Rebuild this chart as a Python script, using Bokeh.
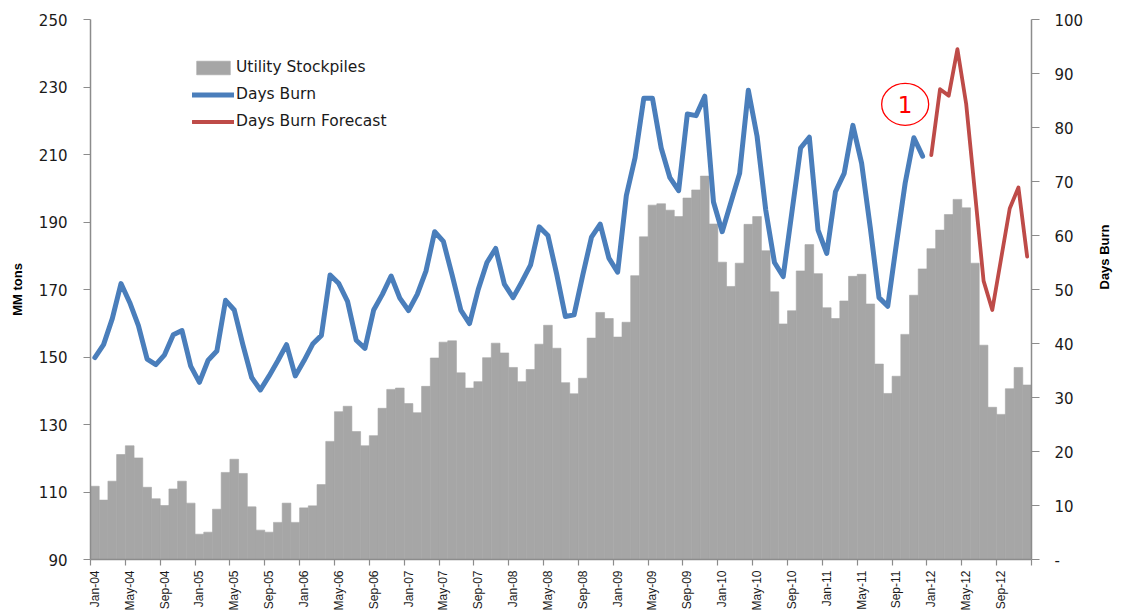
import math
from bokeh.plotting import figure
from bokeh.models import (Range1d, LinearAxis, FixedTicker, Legend, LegendItem,
                          ColumnDataSource)
from bokeh.core.properties import value
from bokeh.embed import file_html
from bokeh.resources import INLINE

# ---- data -------------------------------------------------------------
years = ["04", "05", "06", "07", "08", "09", "10", "11", "12"]
month_names = ["Jan", "Feb", "Mar", "Apr", "May", "Jun",
               "Jul", "Aug", "Sep", "Oct", "Nov", "Dec"]
months = [f"{m}-{y}" for y in years for m in month_names]

# utility coal stockpiles, MM tons (Jan-04 .. Dec-12)
stockpiles = [
    111.7, 107.6, 113.2, 121.1, 123.7, 120.1, 111.4, 108.0, 106.0, 110.9, 113.2, 106.7,
    97.5, 98.1, 104.9, 115.8, 119.7, 115.5, 105.6, 98.7, 98.1, 101.0, 106.7, 101.0,
    105.3, 105.9, 112.2, 125.0, 133.8, 135.4, 127.9, 123.7, 126.7, 134.8, 140.4, 140.8,
    136.2, 133.5, 141.3, 149.7, 154.4, 154.8, 145.3, 140.8, 142.7, 149.8, 154.1, 151.2,
    146.9, 142.7, 146.3, 153.8, 159.4, 152.6, 142.4, 139.1, 143.7, 155.6, 163.2, 161.4,
    155.9, 160.3, 174.1, 185.6, 195.0, 195.4, 193.5, 191.6, 197.1, 199.5, 203.6, 189.4,
    178.1, 170.9, 177.8, 189.3, 191.6, 181.5, 169.3, 159.8, 163.7, 175.5, 183.3, 174.7,
    164.6, 161.4, 166.6, 173.9, 174.5, 165.7, 147.9, 139.2, 144.3, 156.7, 168.3, 176.1,
    182.1, 187.6, 192.2, 196.7, 194.2, 177.8, 153.5, 135.1, 133.0, 140.6, 146.9, 141.7,
]

# days of burn, actual (Jan-04 .. Dec-11)
days_burn = [
    37.4, 39.8, 44.6, 51.1, 47.6, 43.3, 37.1, 36.1, 37.9, 41.6, 42.4, 35.8,
    32.8, 36.9, 38.6, 48.0, 46.2, 39.7, 33.7, 31.4, 34.0, 36.8, 39.8, 34.0,
    36.8, 39.9, 41.5, 52.7, 51.1, 47.8, 40.6, 39.1, 46.2, 49.1, 52.5, 48.4,
    46.1, 49.1, 53.4, 60.7, 58.9, 52.7, 46.2, 43.7, 50.0, 55.0, 57.6, 51.0,
    48.5, 51.4, 54.5, 61.6, 60.0, 52.9, 45.0, 45.3, 52.7, 59.7, 62.1, 55.8,
    53.2, 67.4, 74.4, 85.4, 85.4, 76.2, 70.7, 68.3, 82.5, 82.2, 85.8, 66.2,
    60.7, 66.1, 71.5, 86.9, 78.4, 64.7, 55.0, 52.4, 64.3, 76.2, 78.2, 61.0,
    56.7, 68.1, 71.5, 80.4, 73.4, 61.4, 48.5, 46.9, 58.5, 69.7, 78.1, 74.7,
]

# days of burn, forecast (Jan-12 .. Dec-12)
days_burn_forecast = [74.9, 87.1, 85.9, 94.5, 84.4, 68.1, 51.6, 46.2, 55.6, 65.0, 68.9, 56.1]

left_ticks = [90, 110, 130, 150, 170, 190, 210, 230, 250]
right_ticks = [0, 10, 20, 30, 40, 50, 60, 70, 80, 90, 100]

# callout marker "1"
callout_month = 93.5
callout_days = 84.3

# ---- styling ----------------------------------------------------------
BAR = "#a6a6a6"
BLUE = "#4a7ebb"
RED = "#be4b48"
AXIS = "#8c8c8c"
NUM_FONT = "DejaVu Sans"
CAT_FONT = "Liberation Sans"

n = len(months)
x_mid = [i + 0.5 for i in range(n)]
n_act = len(days_burn)

bar_src = ColumnDataSource(dict(x=x_mid, top=stockpiles, label=months))
act_src = ColumnDataSource(dict(x=x_mid[:n_act], y=days_burn))
fc_src = ColumnDataSource(dict(x=x_mid[n_act:], y=days_burn_forecast))

p = figure(width=1122, height=613, output_backend="svg", toolbar_location=None,
           x_range=Range1d(0, n), y_range=Range1d(90, 250),
           x_axis_location=None,
           min_border_left=90, min_border_right=90, min_border_top=19,
           min_border_bottom=54)
p.extra_y_ranges = {"burn": Range1d(0, 100)}
p.outline_line_color = None
p.xgrid.visible = False
p.ygrid.visible = False
p.background_fill_color = "white"
p.border_fill_color = "white"

bars = p.vbar(x="x", top="top", bottom=90, width=1.0, source=bar_src,
              fill_color=BAR, line_color=BAR, line_width=0.6)
l_act = p.line("x", "y", source=act_src, y_range_name="burn",
               line_color=BLUE, line_width=5, line_join="round", line_cap="round")
l_fc = p.line("x", "y", source=fc_src, y_range_name="burn",
              line_color=RED, line_width=3.8, line_join="round", line_cap="round")

# callout
p.ellipse(x=[callout_month], y=[callout_days], width=47, height=42,
          width_units="screen", height_units="screen", y_range_name="burn",
          fill_color=None, line_color="#ff0000", line_width=1.3)
p.text(x=[callout_month], y=[callout_days], text=["1"], y_range_name="burn",
       text_align="center", text_baseline="middle", text_color="#ff0000",
       text_font=value(NUM_FONT), text_font_size="23px")


def style_value_axis(ax, standoff, tick_out):
    ax.axis_label_text_font = CAT_FONT
    ax.axis_label_text_font_style = "bold"
    ax.axis_label_text_font_size = "13px"
    ax.axis_label_text_color = "black"
    ax.major_label_text_font = NUM_FONT
    ax.major_label_text_font_size = "15px"
    ax.major_label_text_color = "#1a1a1a"
    ax.major_label_standoff = standoff
    ax.major_tick_out = tick_out
    ax.major_tick_in = 0
    ax.minor_tick_out = 0
    ax.minor_tick_in = 0
    ax.axis_line_color = AXIS
    ax.axis_line_width = 1.5
    ax.major_tick_line_color = AXIS
    ax.major_tick_line_width = 1.2


# left axis
ly = p.yaxis[0]
ly.ticker = FixedTicker(ticks=left_ticks)
ly.axis_label = "MM tons"
ly.axis_label_standoff = 11
style_value_axis(ly, 16, 7)

# right axis
ry = LinearAxis(y_range_name="burn", ticker=FixedTicker(ticks=right_ticks),
                major_label_overrides={0: "-"})
ry.axis_label = "Days Burn"
ry.axis_label_standoff = 18
ry.axis_label_orientation = math.pi / 2
style_value_axis(ry, 15, 8)
p.add_layout(ry, "right")

# bottom axis: labels centred on their month, tick marks on the
# category boundaries every 4 months
lab_pos = [i + 0.5 for i in range(0, n, 4)]
bx = LinearAxis(ticker=FixedTicker(ticks=lab_pos, minor_ticks=list(range(0, n + 1, 4))),
                major_label_overrides={pos: months[int(pos)] for pos in lab_pos})
bx.axis_line_color = AXIS
bx.axis_line_width = 1.5
bx.major_tick_line_color = None
bx.major_tick_out = 0
bx.major_tick_in = 0
bx.minor_tick_line_color = AXIS
bx.minor_tick_line_width = 1.2
bx.minor_tick_out = 6
bx.minor_tick_in = 0
bx.major_label_standoff = 5
bx.major_label_orientation = math.pi / 2
bx.major_label_text_font = CAT_FONT
bx.major_label_text_font_size = "12px"
bx.major_label_text_color = "#1a1a1a"
p.add_layout(bx, "below")

legend = Legend(items=[
    LegendItem(label="Utility Stockpiles", renderers=[bars]),
    LegendItem(label="Days Burn", renderers=[l_act]),
    LegendItem(label="Days Burn Forecast", renderers=[l_fc]),
], location=(102, 429), orientation="vertical")
legend.background_fill_alpha = 0
legend.border_line_color = None
legend.padding = 0
legend.margin = 0
legend.spacing = 9
legend.glyph_width = 42
legend.glyph_height = 17
legend.label_height = 17
legend.label_standoff = 2
legend.label_text_font = NUM_FONT
legend.label_text_font_size = "15.5px"
legend.label_text_color = "#1a1a1a"
p.add_layout(legend)

open("out.html", "w").write(file_html(p, INLINE))
